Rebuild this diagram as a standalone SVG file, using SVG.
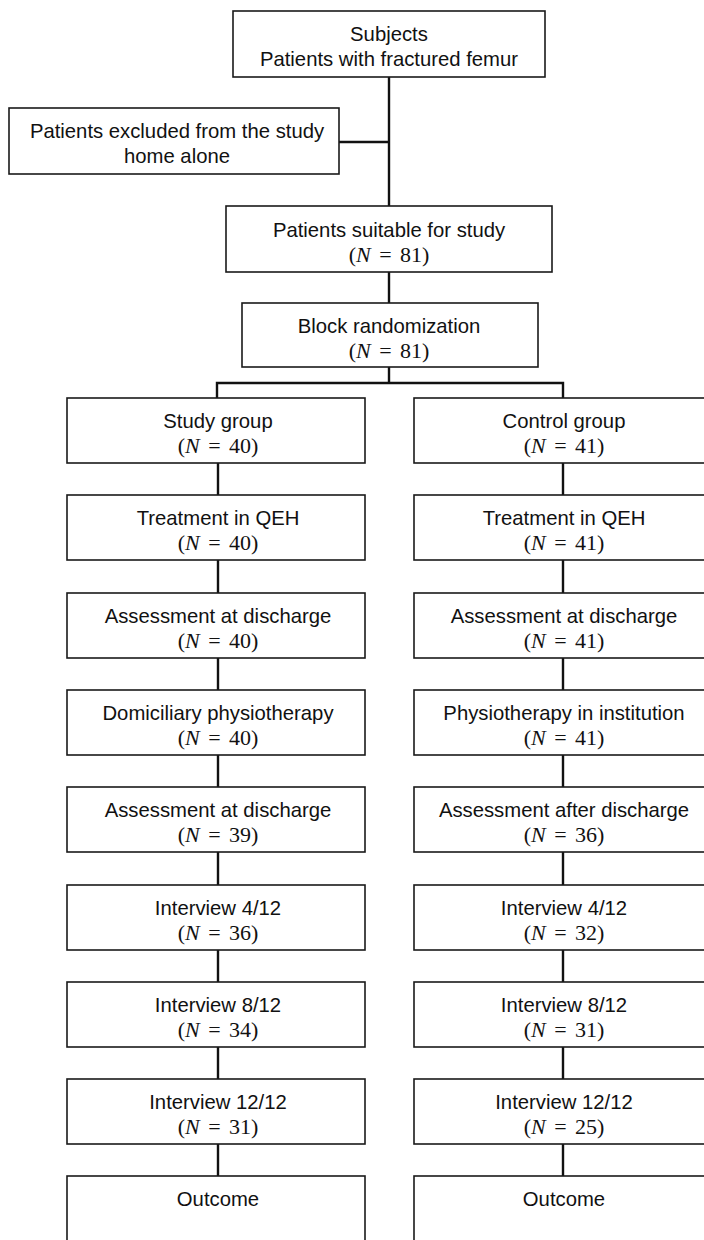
<svg xmlns="http://www.w3.org/2000/svg" width="704" height="1240" viewBox="0 0 704 1240">
<style>
.box{fill:#fff;stroke:#1a1a1a;stroke-width:1.6}
.t{font-family:"Liberation Sans",Arial,sans-serif;font-size:20.3px;fill:#111;text-anchor:middle}
.n{font-family:"Liberation Serif","Times New Roman",serif;font-size:22px;fill:#111;text-anchor:middle;word-spacing:3px}
.i{font-style:italic}
.c{stroke:#111;stroke-width:2.4;fill:none}
</style>
<rect width="704" height="1240" fill="#fff"/>
<g id="connectors">
<path class="c" d="M389 77V206"/>
<path class="c" d="M339 142H389"/>
<path class="c" d="M389 272V303"/>
<path class="c" d="M389 367V383"/>
<path class="c" d="M217 398V383H563V398"/>
<path class="c" d="M218 463V495M218 560V593M218 658V690M218 755V787M218 852V885M218 950V982M218 1047V1079M218 1144V1176"/>
<path class="c" d="M563 463V495M563 560V593M563 658V690M563 755V787M563 852V885M563 950V982M563 1047V1079M563 1144V1176"/>
</g>
<g id="subjects"><rect class="box" x="233" y="11" width="312" height="66"/><text class="t" x="389" y="41">Subjects</text><text class="t" x="389" y="66">Patients with fractured femur</text></g>
<g id="excluded"><rect class="box" x="9" y="108" width="330" height="66"/><text class="t" x="177" y="138">Patients excluded from the study</text><text class="t" x="177" y="163">home alone</text></g>
<g id="suitable"><rect class="box" x="226" y="206" width="326" height="66"/><text class="t" x="389" y="237">Patients suitable for study</text><text class="n" x="389" y="262">(<tspan class="i">N</tspan> = 81)</text></g>
<g id="block"><rect class="box" x="242" y="303" width="296" height="64"/><text class="t" x="389" y="333">Block randomization</text><text class="n" x="389" y="358">(<tspan class="i">N</tspan> = 81)</text></g>

<g id="study-group"><rect class="box" x="67" y="398" width="298" height="65"/><text class="t" x="218" y="428">Study group</text><text class="n" x="218" y="453">(<tspan class="i">N</tspan> = 40)</text></g>
<g id="study-treatment"><rect class="box" x="67" y="495" width="298" height="65"/><text class="t" x="218" y="525">Treatment in QEH</text><text class="n" x="218" y="550">(<tspan class="i">N</tspan> = 40)</text></g>
<g id="study-assess1"><rect class="box" x="67" y="593" width="298" height="65"/><text class="t" x="218" y="623">Assessment at discharge</text><text class="n" x="218" y="648">(<tspan class="i">N</tspan> = 40)</text></g>
<g id="study-physio"><rect class="box" x="67" y="690" width="298" height="65"/><text class="t" x="218" y="720">Domiciliary physiotherapy</text><text class="n" x="218" y="745">(<tspan class="i">N</tspan> = 40)</text></g>
<g id="study-assess2"><rect class="box" x="67" y="787" width="298" height="65"/><text class="t" x="218" y="817">Assessment at discharge</text><text class="n" x="218" y="842">(<tspan class="i">N</tspan> = 39)</text></g>
<g id="study-int4"><rect class="box" x="67" y="885" width="298" height="65"/><text class="t" x="218" y="915">Interview 4/12</text><text class="n" x="218" y="940">(<tspan class="i">N</tspan> = 36)</text></g>
<g id="study-int8"><rect class="box" x="67" y="982" width="298" height="65"/><text class="t" x="218" y="1012">Interview 8/12</text><text class="n" x="218" y="1037">(<tspan class="i">N</tspan> = 34)</text></g>
<g id="study-int12"><rect class="box" x="67" y="1079" width="298" height="65"/><text class="t" x="218" y="1109">Interview 12/12</text><text class="n" x="218" y="1134">(<tspan class="i">N</tspan> = 31)</text></g>
<g id="study-outcome"><rect class="box" x="67" y="1176" width="298" height="80"/><text class="t" x="218" y="1206">Outcome</text></g>

<g id="control-group"><rect class="box" x="414" y="398" width="302" height="65"/><text class="t" x="564" y="428">Control group</text><text class="n" x="564" y="453">(<tspan class="i">N</tspan> = 41)</text></g>
<g id="control-treatment"><rect class="box" x="414" y="495" width="302" height="65"/><text class="t" x="564" y="525">Treatment in QEH</text><text class="n" x="564" y="550">(<tspan class="i">N</tspan> = 41)</text></g>
<g id="control-assess1"><rect class="box" x="414" y="593" width="302" height="65"/><text class="t" x="564" y="623">Assessment at discharge</text><text class="n" x="564" y="648">(<tspan class="i">N</tspan> = 41)</text></g>
<g id="control-physio"><rect class="box" x="414" y="690" width="302" height="65"/><text class="t" x="564" y="720">Physiotherapy in institution</text><text class="n" x="564" y="745">(<tspan class="i">N</tspan> = 41)</text></g>
<g id="control-assess2"><rect class="box" x="414" y="787" width="302" height="65"/><text class="t" x="564" y="817">Assessment after discharge</text><text class="n" x="564" y="842">(<tspan class="i">N</tspan> = 36)</text></g>
<g id="control-int4"><rect class="box" x="414" y="885" width="302" height="65"/><text class="t" x="564" y="915">Interview 4/12</text><text class="n" x="564" y="940">(<tspan class="i">N</tspan> = 32)</text></g>
<g id="control-int8"><rect class="box" x="414" y="982" width="302" height="65"/><text class="t" x="564" y="1012">Interview 8/12</text><text class="n" x="564" y="1037">(<tspan class="i">N</tspan> = 31)</text></g>
<g id="control-int12"><rect class="box" x="414" y="1079" width="302" height="65"/><text class="t" x="564" y="1109">Interview 12/12</text><text class="n" x="564" y="1134">(<tspan class="i">N</tspan> = 25)</text></g>
<g id="control-outcome"><rect class="box" x="414" y="1176" width="302" height="80"/><text class="t" x="564" y="1206">Outcome</text></g>
</svg>
